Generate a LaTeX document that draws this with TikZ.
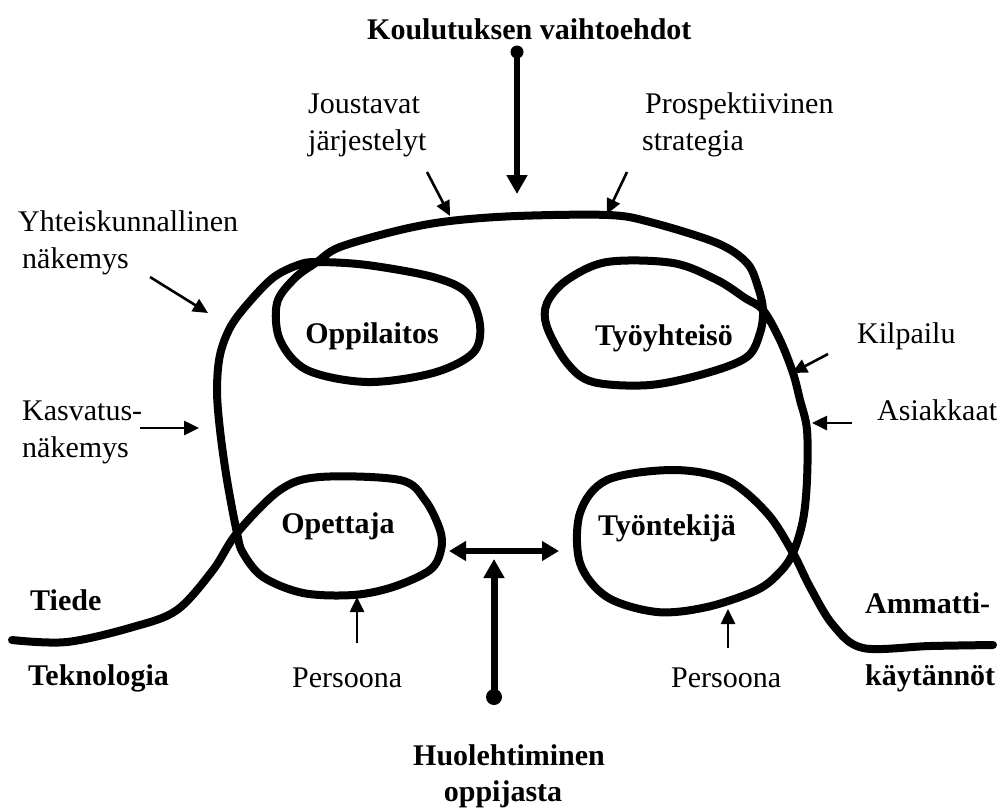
\documentclass[tikz,border=0pt]{standalone}
\usepackage{fontspec}
\setmainfont{Liberation Serif}
\usetikzlibrary{arrows.meta}
\begin{document}
\begin{tikzpicture}[x=1pt,y=-1pt,
  lbl/.style={inner sep=0pt, anchor=base west, font=\fontsize{30}{38}\selectfont},
  blbl/.style={inner sep=0pt, anchor=base west, font=\fontsize{30}{38}\selectfont\bfseries},
  clbl/.style={blbl, anchor=base},
  curve/.style={line width=8pt, line join=round, line cap=round},
  thinarrow/.style={line width=2.6pt, -{Triangle[length=15pt,width=14pt]}},
  boldarrow/.style={line width=6pt, -{Triangle[length=19pt,width=20pt]}},
  twoway/.style={line width=6pt, {Triangle[length=17pt,width=19pt]}-{Triangle[length=17pt,width=19pt]}},
  dot/.style={circle, fill=black, inner sep=0pt, minimum size=#1}
]
\useasboundingbox (0,0) rectangle (1001,807);

% the winding line with its four loops
\draw[curve] plot[smooth, tension=0.55] coordinates {
  (12,640) (67,642) (133,627) (177,610) (213,570) (237,533)
  (280,490) (320,477) (400,480) (425,500) (440,530) (441,550) (430,570)
  (393,587) (353,595) (303,593) (263,577) (243,553) (237,533)
  (227,480) (220,430) (217,390) (220,355) (231,326) (251,300) (274,277)
  (298,265) (317,262)
  (367,265) (433,277) (467,293) (480,325) (473,353) (433,373) (367,382)
  (307,370) (280,340) (277,303) (295,278) (317,262)
  (340,247) (400,230) (450,221) (517,216) (608,215) (650,222) (717,243)
  (747,263) (758,287) (763,310)
  (760,333) (747,357) (707,373) (650,385) (593,382) (567,363) (547,327)
  (547,303) (567,280) (607,262) (673,263) (717,280) (745,298) (763,310)
  (780,340) (793,373) (800,400) (807,430) (807,480) (803,520) (793,553)
  (780,572) (757,590) (707,607) (657,612) (607,597) (580,563) (580,513)
  (607,480) (673,470) (727,480) (767,513) (793,553)
  (810,587) (833,625) (863,648) (930,646) (993,645)};

% loop labels
\node[clbl] (oppilaitos) at (372,343) {Oppilaitos};
\node[clbl] (tyoyhteiso) at (664,345) {Työyhteisö};
\node[clbl] (opettaja) at (338,533) {Opettaja};
\node[clbl] (tyontekija) at (667,535) {Työntekijä};

% top
\node[blbl] (koulutus) at (367,39) {Koulutuksen vaihtoehdot};
\node[dot=13pt] (kdot) at (517,52) {};
\coordinate (ktip) at (517,194);
\draw[boldarrow] (kdot.center) -- (ktip);

\node[lbl] (jous1) at (308,113) {Joustavat};
\node[lbl] (jous2) at (308,150) {järjestelyt};
\coordinate (joustail) at (427,172);
\coordinate (joustip) at (450,216);
\draw[thinarrow] (joustail) -- (joustip);

\node[lbl] (pros1) at (645,113) {Prospektiivinen};
\node[lbl] (pros2) at (642,150) {strategia};
\coordinate (prostail) at (627,172);
\coordinate (prostip) at (607,214);
\draw[thinarrow] (prostail) -- (prostip);

% left side
\node[lbl] (yht1) at (18,231) {Yhteiskunnallinen};
\node[lbl] (yht2) at (22,268) {näkemys};
\coordinate (yhttail) at (150,277);
\coordinate (yhttip) at (208,313);
\draw[thinarrow] (yhttail) -- (yhttip);

\node[lbl] (kas1) at (22,420) {Kasvatus-};
\node[lbl] (kas2) at (22,457) {näkemys};
\coordinate (kastail) at (140,428);
\coordinate (kastip) at (199,428);
\draw[thinarrow] (kastail) -- (kastip);

% right side
\node[lbl] (kilpailu) at (857,343) {Kilpailu};
\coordinate (kiltail) at (828,354);
\coordinate (kiltip) at (792,373);
\draw[thinarrow] (kiltail) -- (kiltip);

\node[lbl] (asiakkaat) at (877,420) {Asiakkaat};
\coordinate (asitail) at (852,423);
\coordinate (asitip) at (812,423);
\draw[thinarrow] (asitail) -- (asitip);

% bottom corners
\node[blbl] (tiede) at (30,610) {Tiede};
\node[blbl] (teknologia) at (28,685) {Teknologia};
\node[blbl] (ammatti) at (865,613) {Ammatti-};
\node[blbl] (kaytannot) at (865,685) {käytännöt};

% persona arrows
\node[lbl] (pers1) at (292,687) {Persoona};
\coordinate (p1tail) at (357,643);
\coordinate (p1tip) at (357,597);
\draw[thinarrow] (p1tail) -- (p1tip);

\node[lbl] (pers2) at (671,687) {Persoona};
\coordinate (p2tail) at (728,648);
\coordinate (p2tip) at (728,609);
\draw[thinarrow] (p2tail) -- (p2tip);

% middle arrows
\coordinate (dleft) at (449,551);
\coordinate (dright) at (559,551);
\draw[twoway] (dleft) -- (dright);

\node[dot=16pt] (hdot) at (494,697) {};
\coordinate (htip) at (494,559);
\draw[boldarrow, line width=7pt] (hdot.center) -- (htip);

\node[clbl] (huol1) at (509,765) {Huolehtiminen};
\node[clbl] (huol2) at (503,801) {oppijasta};
\end{tikzpicture}
\end{document}
